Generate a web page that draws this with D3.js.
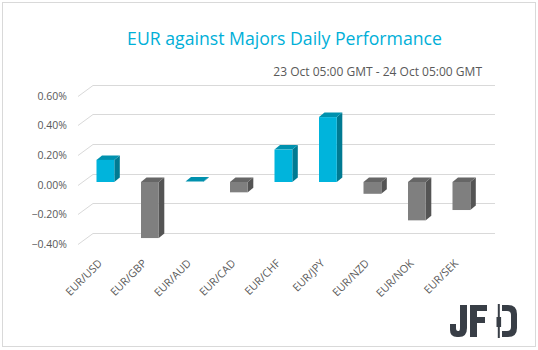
<!DOCTYPE html>
<html><head><meta charset="utf-8">
<script src="https://cdn.jsdelivr.net/npm/d3@7"></script>
<style>body{margin:0;background:#fff} svg{display:block}</style>
</head><body><svg id="c" width="538" height="350"></svg>
<script>
const categories = ["EUR/USD","EUR/GBP","EUR/AUD","EUR/CAD","EUR/CHF","EUR/JPY","EUR/NZD","EUR/NOK","EUR/SEK"];
const values = [0.15, -0.38, 0.004, -0.07, 0.22, 0.44, -0.08, -0.26, -0.19];
const yTicks = [-0.4, -0.2, 0, 0.2, 0.4, 0.6];
const titleText = "EUR against Majors Daily Performance";
const subtitleText = "23 Oct 05:00 GMT - 24 Oct 05:00 GMT";

const svg = d3.select("#c");
svg.append("rect").attr("x",2.5).attr("y",2.5).attr("width",533).attr("height",344)
  .attr("fill","#fff").attr("stroke","#d9d9d9");

const x = d3.scaleBand().domain(categories).range([83.15,483.65]).paddingInner(0.6).paddingOuter(0.3);
const y = d3.scaleLinear().domain([-0.4,0.6]).range([241,93.5]);
const backOff = -8.5, wallDx = 15, wallDy = -11, gridLeft = 78, gridRight = 495;
const dX = 5.5, dY = -4.5;
const fmt = d3.format(".2%");

// gridlines
const grid = svg.append("g");
yTicks.forEach(t => {
  const by = Math.round(y(t) + backOff) + 0.5;
  grid.append("path")
    .attr("d", `M${gridLeft},${by - wallDy}L${gridLeft + wallDx},${by}H${gridRight}`)
    .attr("fill","none").attr("stroke","#d9d9d9").attr("stroke-width",1);
  grid.append("text").attr("x",67).attr("y",by - wallDy).attr("dy","0.35em")
    .attr("text-anchor","end").attr("font-family","Open Sans").attr("font-size",10.5)
    .attr("fill","#595959").text(fmt(t/100));
});

// bars
const bars = svg.append("g");
categories.forEach((c,i) => {
  const v = values[i];
  const pos = v >= 0;
  const col = pos ? {f:"#00b4dc", s:"#007a92", t:"#0091ae"} : {f:"#7f7f7f", s:"#545454", t:"#666666"};
  const x0 = x(c), w = x.bandwidth();
  const yT = y(Math.max(v,0)), yB = y(Math.min(v,0));
  const g = bars.append("g");
  g.append("path").attr("d",`M${x0+w},${yT}L${x0+w+dX},${yT+dY}L${x0+w+dX},${yB+dY}L${x0+w},${yB}Z`).attr("fill",col.s);
  g.append("path").attr("d",`M${x0},${yT}L${x0+dX},${yT+dY}L${x0+w+dX},${yT+dY}L${x0+w},${yT}Z`).attr("fill",col.t);
  if (yB - yT > 0.8) g.append("rect").attr("x",x0).attr("y",yT).attr("width",w).attr("height",yB-yT).attr("fill",col.f);
});

// x labels
categories.forEach(c => {
  svg.append("text")
    .attr("transform",`translate(${x(c)+x.bandwidth()/2-2.5},264) rotate(-45)`)
    .attr("text-anchor","end").attr("font-family","Open Sans").attr("font-size",10.8)
    .attr("fill","#595959").text(c);
});

// title & subtitle
function fit(sel, target, base){
  const len = sel.node().getComputedTextLength();
  sel.attr("font-size", base*target/len);
}
const t = svg.append("text").attr("x",284.5).attr("y",45).attr("text-anchor","middle")
  .attr("font-family","Open Sans").attr("font-size",19).attr("fill","#00afd8").text(titleText);
fit(t,315,19);
const s = svg.append("text").attr("x",482).attr("y",76).attr("text-anchor","end")
  .attr("font-family","Open Sans").attr("font-size",11.5).attr("fill","#595959").text(subtitleText);
fit(s,209,11.5);

// JFD logo
const logo = svg.append("g").attr("fill","#383e46");
logo.append("path").attr("d","M460,305H467V328Q467,337 459,337H457Q450,337 450,330V324H456V328Q456,331 458,331H459Q460,331 460,328Z");
logo.append("path").attr("d","M470,305H487V311H477V317H485V323H477V337H470Z");
logo.append("rect").attr("x",497.8).attr("y",304).attr("width",2).attr("height",34);
logo.append("rect").attr("x",496.5).attr("y",317).attr("width",4.6).attr("height",10);
logo.append("path").attr("d","M502,305H508Q517,305 517,314V328Q517,337 508,337H502V331H507Q511,331 511,327V315Q511,311 507,311H502Z");
</script></body></html>
